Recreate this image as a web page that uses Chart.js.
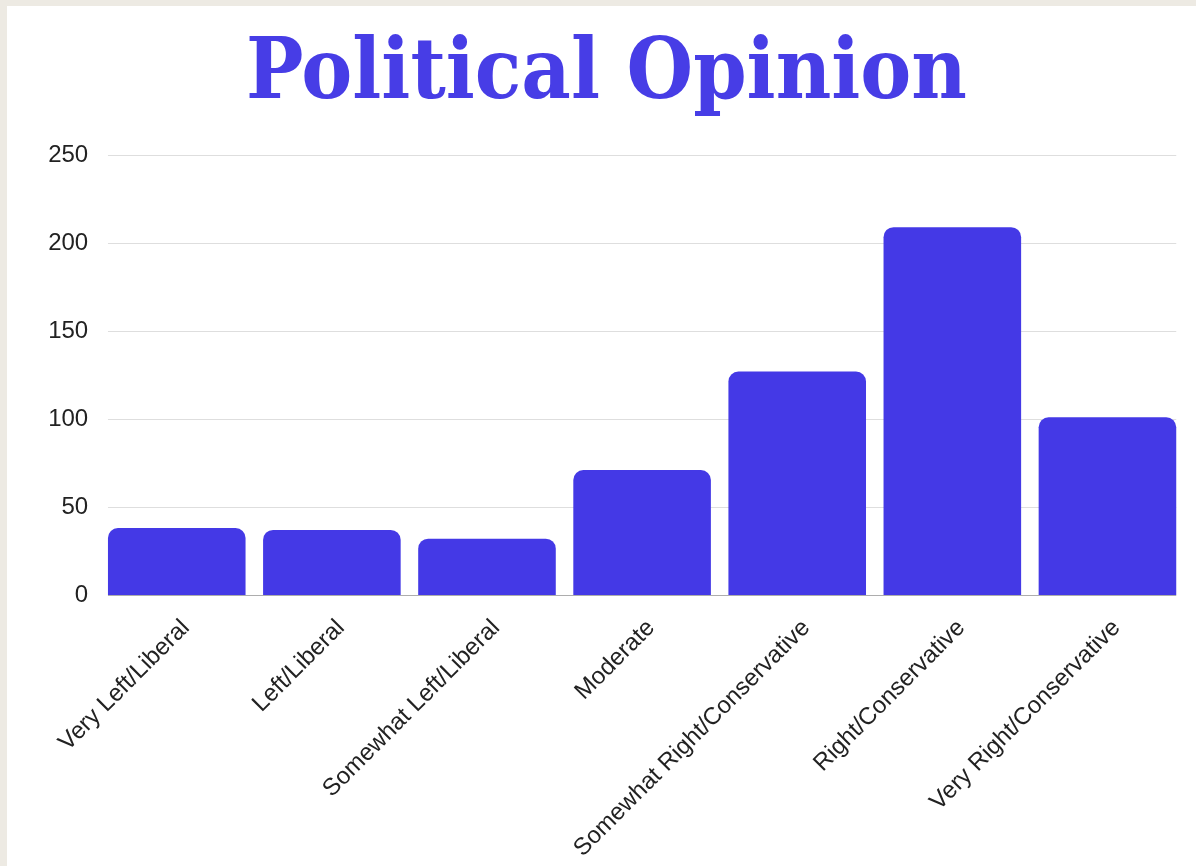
<!DOCTYPE html>
<html>
<head>
<meta charset="utf-8">
<script src="https://cdn.jsdelivr.net/npm/chart.js@4.4.1/dist/chart.umd.min.js"></script>
<style>
  html, body { margin: 0; padding: 0; background: #EDEAE3; }
  body { width: 1196px; height: 866px; position: relative; overflow: hidden; }
  #card { position: absolute; left: 7px; top: 6px; right: 0; bottom: 0; background: #ffffff; }
  #wrap { position: absolute; left: 0; top: 0; width: 1196px; height: 866px; }
</style>
</head>
<body>
<div id="card"></div>
<div id="wrap"><canvas id="c" width="1196" height="866"></canvas></div>
<script>
const chartTitle = 'Political Opinion';
const categories = [
  'Very Left/Liberal',
  'Left/Liberal',
  'Somewhat Left/Liberal',
  'Moderate',
  'Somewhat Right/Conservative',
  'Right/Conservative',
  'Very Right/Conservative'
];
const counts = [38, 37, 32, 71, 127, 209, 101];
const yTickValues = [0, 50, 100, 150, 200, 250];

const BAR_COLOR = '#4439E6';
const TITLE_COLOR = '#473DE6';

const gridPlugin = {
  id: 'customGrid',
  beforeDatasetsDraw(chart) {
    const ctx = chart.ctx;
    const y = chart.scales.y;
    const bars = chart.getDatasetMeta(0).data;
    const first = bars[0], last = bars[bars.length - 1];
    const left = first.x - first.width / 2;
    const right = last.x + last.width / 2;
    ctx.save();
    y.ticks.forEach(t => {
      const py = Math.round(y.getPixelForValue(t.value)) + 0.5;
      ctx.beginPath();
      ctx.lineWidth = 1.2;
      ctx.strokeStyle = t.value === 0 ? '#ADADAD' : '#DEDEDE';
      ctx.moveTo(left, py);
      ctx.lineTo(right, py);
      ctx.stroke();
    });
    ctx.restore();
  }
};

new Chart(document.getElementById('c'), {
  type: 'bar',
  data: {
    labels: categories,
    datasets: [{
      data: counts,
      backgroundColor: BAR_COLOR,
      borderWidth: 0,
      borderRadius: { topLeft: 10, topRight: 10, bottomLeft: 0, bottomRight: 0 },
      borderSkipped: 'bottom',
      barPercentage: 1.0,
      categoryPercentage: 0.887
    }]
  },
  options: {
    responsive: false,
    animation: false,
    layout: { padding: { left: 28, right: 11, top: 0, bottom: 0 } },
    plugins: {
      legend: { display: false },
      tooltip: { enabled: false },
      title: {
        display: true,
        text: chartTitle,
        color: TITLE_COLOR,
        font: { family: "'DejaVu Serif Condensed', 'DejaVu Serif', serif", size: 85, weight: 'bold' },
        padding: { top: 24.5, bottom: 28.5 }
      }
    },
    scales: {
      x: {
        grid: { display: false, drawTicks: false },
        border: { display: false },
        ticks: {
          color: '#222222',
          font: { family: "'Liberation Sans', Arial, sans-serif", size: 24 },
          minRotation: 45,
          maxRotation: 45,
          autoSkip: false,
          padding: 19,
          labelOffset: 9
        },
        afterFit(scale) { scale.height = 271; }
      },
      y: {
        min: 0,
        max: 250,
        afterBuildTicks(scale) { scale.ticks = yTickValues.map(v => ({ value: v })); },
        grid: { display: false, drawTicks: false },
        border: { display: false },
        ticks: {
          color: '#222222',
          font: { family: "'Liberation Sans', Arial, sans-serif", size: 24 },
          padding: 11
        },
        afterFit(scale) { scale.width = 71.2; }
      }
    }
  },
  plugins: [gridPlugin]
});
</script>
</body>
</html>
